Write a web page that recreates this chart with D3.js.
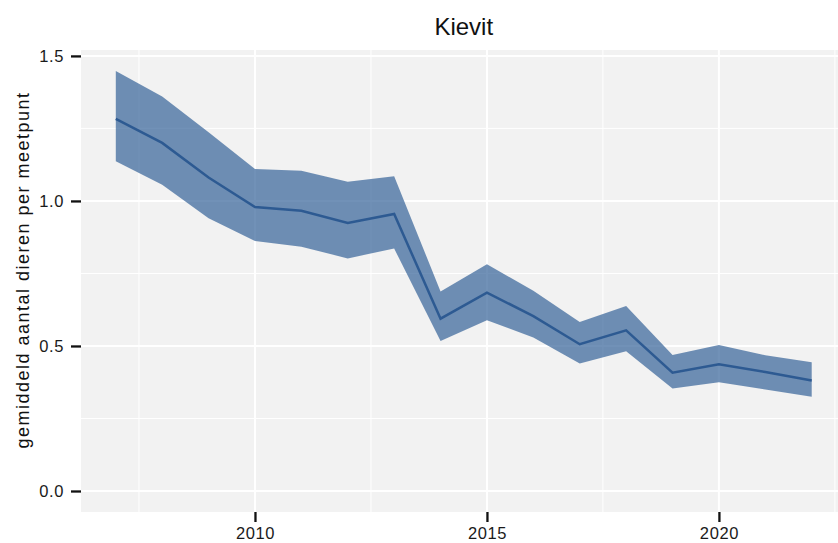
<!DOCTYPE html>
<html>
<head>
<meta charset="utf-8">
<script src="https://cdn.jsdelivr.net/npm/d3@7"></script>
<style>
  body { margin: 0; background: #fff; }
  text { font-family: "Liberation Sans", Arial, sans-serif; }
</style>
</head>
<body>
<div id="chart"></div>
<script>
// Kievit trend: mean count per point with its confidence band
const years = [2007, 2008, 2009, 2010, 2011, 2012, 2013, 2014, 2015, 2016, 2017, 2018, 2019, 2020, 2021, 2022];
const mean  = [1.283, 1.200, 1.081, 0.979, 0.966, 0.924, 0.955, 0.594, 0.684, 0.603, 0.506, 0.554, 0.408, 0.437, 0.410, 0.381];
const upper = [1.448, 1.360, 1.237, 1.110, 1.104, 1.066, 1.085, 0.688, 0.782, 0.690, 0.583, 0.638, 0.469, 0.503, 0.468, 0.444];
const lower = [1.137, 1.056, 0.940, 0.862, 0.842, 0.802, 0.836, 0.517, 0.589, 0.529, 0.440, 0.482, 0.353, 0.375, 0.350, 0.325];
const yTicks = [0, 0.5, 1.0, 1.5];
const yMinor = [0.25, 0.75, 1.25];
const xTicks = [2010, 2015, 2020];
const xMinor = [2007.5, 2012.5, 2017.5, 2022.5];

const W = 838, H = 543;
const margin = { top: 50, right: -8.5, bottom: 31, left: 81 };
const width = W - margin.left - margin.right;
const height = H - margin.top - margin.bottom;

const data = years.map((y, i) => ({ year: y, mean: mean[i], lo: lower[i], hi: upper[i] }));

const svg = d3.select("#chart")
    .append("svg")
    .attr("width", W)
    .attr("height", H);

const g = svg.append("g")
    .attr("transform", "translate(" + margin.left + "," + margin.top + ")");

// ggplot-style 5% expansion on both axes
const x = d3.scaleLinear()
    .domain([2006.25, 2022.75])
    .range([0, width]);

const yMax = d3.max(upper);
const y = d3.scaleLinear()
    .domain([-yMax * 0.05, yMax * 1.05])
    .range([height, 0]);

// panel background
g.append("rect")
    .attr("width", width)
    .attr("height", height)
    .attr("fill", "#f2f2f2");

// minor grid
g.selectAll(".hminor").data(yMinor).enter().append("line")
    .attr("x1", 0).attr("x2", width)
    .attr("y1", d => y(d)).attr("y2", d => y(d))
    .attr("stroke", "#fff").attr("stroke-width", 1);
g.selectAll(".vminor").data(xMinor).enter().append("line")
    .attr("y1", 0).attr("y2", height)
    .attr("x1", d => x(d)).attr("x2", d => x(d))
    .attr("stroke", "#fff").attr("stroke-width", 1);

// major grid
g.selectAll(".hmajor").data(yTicks).enter().append("line")
    .attr("x1", 0).attr("x2", width)
    .attr("y1", d => y(d)).attr("y2", d => y(d))
    .attr("stroke", "#fff").attr("stroke-width", 2);
g.selectAll(".vmajor").data(xTicks).enter().append("line")
    .attr("y1", 0).attr("y2", height)
    .attr("x1", d => x(d)).attr("x2", d => x(d))
    .attr("stroke", "#fff").attr("stroke-width", 2);

// confidence band
g.append("path")
    .datum(data)
    .attr("fill", "#346298")
    .attr("fill-opacity", 0.7)
    .attr("d", d3.area()
        .x(d => x(d.year))
        .y0(d => y(d.lo))
        .y1(d => y(d.hi)));

// mean line
g.append("path")
    .datum(data)
    .attr("fill", "none")
    .attr("stroke", "#2d5a92")
    .attr("stroke-width", 2.5)
    .attr("d", d3.line()
        .x(d => x(d.year))
        .y(d => y(d.mean)));

// axes
const yAxis = g.append("g")
    .call(d3.axisLeft(y).tickValues(yTicks).tickFormat(d3.format(".1f")).tickSize(10).tickPadding(7));
const xAxis = g.append("g")
    .attr("transform", "translate(0," + height + ")")
    .call(d3.axisBottom(x).tickValues(xTicks).tickFormat(d3.format("d")).tickSize(10).tickPadding(5));

[yAxis, xAxis].forEach(a => {
    a.select(".domain").remove();
    a.selectAll(".tick line").attr("stroke", "#111").attr("stroke-width", 2.3);
    a.selectAll(".tick text")
        .attr("fill", "#1a1a1a")
        .style("font-size", "16.5px")
        .style("letter-spacing", "0.6px")
        .style("font-family", "'Liberation Sans', Arial, sans-serif");
});

// title
svg.append("text")
    .attr("x", margin.left + width / 2)
    .attr("y", 35)
    .attr("text-anchor", "middle")
    .style("font-size", "24px")
    .attr("fill", "#111")
    .text("Kievit");

// y axis label
svg.append("text")
    .attr("transform", "rotate(-90)")
    .attr("x", -270)
    .attr("y", 29)
    .attr("text-anchor", "middle")
    .style("font-size", "18px")
    .style("letter-spacing", "1.5px")
    .attr("fill", "#111")
    .text("gemiddeld aantal dieren per meetpunt");
</script>
</body>
</html>
